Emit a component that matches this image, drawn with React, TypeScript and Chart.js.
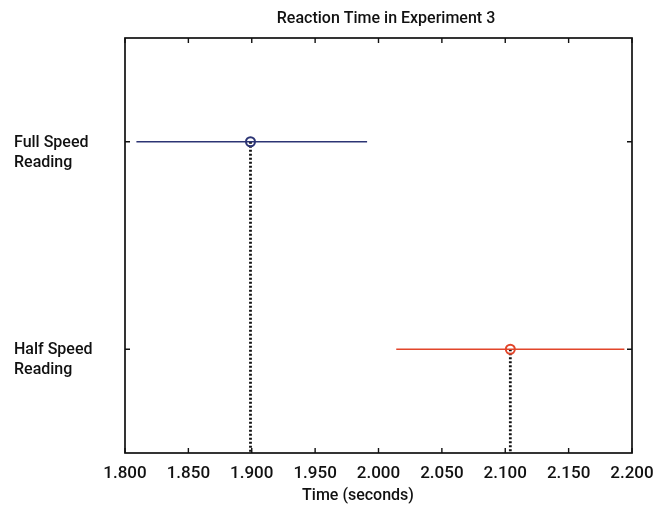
import React, { useEffect, useRef } from "react";
import { Chart, registerables } from "chart.js";

Chart.register(...registerables);

const title = "Reaction Time in Experiment 3";
const xTitle = "Time (seconds)";
const categories: string[][] = [["Full Speed", "Reading"], ["Half Speed", "Reading"]];
const categoryPositions = [1, 0];
const means = [1.899, 2.104];
const lowers = [1.809, 2.014];
const uppers = [1.991, 2.194];
const colors = ["#2c3474", "#e2452a"];
const xTicks = [1.8, 1.85, 1.9, 1.95, 2.0, 2.05, 2.1, 2.15, 2.2];

const FONT = "Roboto, 'Liberation Sans', Arial, sans-serif";

const framePlugin = {
  id: "frame",
  afterDatasetsDraw(chart: any) {
    const { ctx, chartArea: a, scales } = chart;
    ctx.save();
    ctx.strokeStyle = "#111";
    ctx.lineWidth = 1.7;
    ctx.strokeRect(a.left, a.top, a.right - a.left, a.bottom - a.top);
    ctx.lineWidth = 1.4;
    ctx.beginPath();
    for (const v of xTicks) {
      const px = scales.x.getPixelForValue(v);
      ctx.moveTo(px, a.bottom);
      ctx.lineTo(px, a.bottom - 5);
      ctx.moveTo(px, a.top);
      ctx.lineTo(px, a.top + 5);
    }
    for (const v of categoryPositions) {
      const py = scales.y.getPixelForValue(v);
      ctx.moveTo(a.left, py);
      ctx.lineTo(a.left + 5, py);
      ctx.moveTo(a.right, py);
      ctx.lineTo(a.right - 5, py);
    }
    ctx.stroke();
    ctx.fillStyle = "#111";
    ctx.font = `500 16px ${FONT}`;
    ctx.textBaseline = "middle";
    // title
    ctx.textAlign = "center";
    ctx.fillText(title, 386, 19);
    // x axis title
    ctx.fillText(xTitle, 358, 496);
    // category labels
    ctx.textAlign = "left";
    categories.forEach((lines, i) => {
      const py = scales.y.getPixelForValue(categoryPositions[i]);
      lines.forEach((t, j) => ctx.fillText(t, 14, py + 1 + j * 20));
    });
    ctx.restore();
  },
};

export default function App() {
  const ref = useRef<HTMLCanvasElement | null>(null);
  useEffect(() => {
    document.body.style.margin = "0";
    const datasets: any[] = [];
    means.forEach((m, i) => {
      const y = categoryPositions[i];
      datasets.push({
        type: "line",
        data: [{ x: m, y }, { x: m, y: -0.5 }],
        borderColor: "#111",
        borderWidth: 2.8,
        borderDash: [2, 2],
        pointRadius: 0,
        order: 3,
      });
      datasets.push({
        type: "line",
        data: [{ x: lowers[i], y }, { x: uppers[i], y }],
        borderColor: colors[i],
        borderWidth: 1.7,
        pointRadius: 0,
        order: 2,
      });
      datasets.push({
        type: "scatter",
        data: [{ x: m, y }],
        borderColor: colors[i],
        backgroundColor: "rgba(255,255,255,0)",
        borderWidth: 2,
        pointRadius: 4.5,
        order: 1,
      });
    });
    const chart = new Chart(ref.current!, {
      type: "scatter",
      data: { datasets },
      plugins: [framePlugin],
      options: {
        animation: false,
        responsive: false,
        layout: { padding: { left: 0, right: 25, top: 38, bottom: 0 } },
        plugins: {
          legend: { display: false },
          tooltip: { enabled: false },
          title: { display: false },
        },
        scales: {
          x: {
            type: "linear",
            min: 1.8,
            max: 2.2,
            afterBuildTicks: (s: any) => {
              s.ticks = xTicks.map((v) => ({ value: v }));
            },
            grid: { display: false },
            border: { display: false },
            ticks: {
              color: "#111",
              font: { family: FONT, size: 17, weight: "500" },
              padding: 3,
              maxRotation: 0,
              autoSkip: false,
              callback: (v: any) => Number(v).toFixed(3),
            },
            title: { display: false },
            afterFit: (s: any) => {
              s.height = 53;
            },
          },
          y: {
            type: "linear",
            min: -0.5,
            max: 1.5,
            grid: { display: false },
            border: { display: false },
            ticks: { display: false },
            afterFit: (s: any) => {
              s.width = 125;
            },
          },
        },
      },
    });
    return () => chart.destroy();
  }, []);
  return (
    <div style={{ width: 657, height: 506, background: "#fff" }}>
      <canvas ref={ref} width={657} height={506} />
    </div>
  );
}
